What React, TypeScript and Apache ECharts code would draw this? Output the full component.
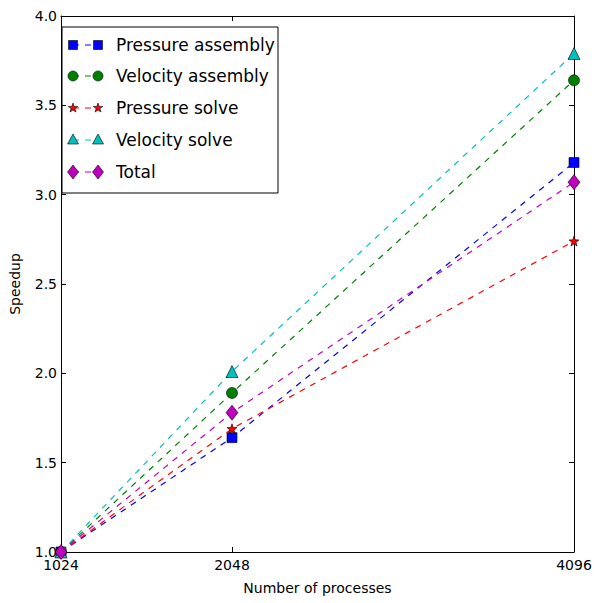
import React, { useEffect, useRef } from "react";
import * as echarts from "echarts";

const processes = [1024, 2048, 4096];
const xTickValues = [1024, 2048, 4096];
const pressureAssembly = [1.0, 1.64, 3.18];
const velocityAssembly = [1.0, 1.89, 3.64];
const pressureSolve = [1.0, 1.69, 2.74];
const velocitySolve = [1.0, 2.01, 3.79];
const total = [1.0, 1.78, 3.07];
const seriesNames = ["Pressure assembly", "Velocity assembly", "Pressure solve", "Velocity solve", "Total"];
const seriesColors = ["#0000ff", "#008000", "#ff0000", "#00bfbf", "#bf00bf"];

const STAR = "path://M0,-10 L2.35,-3.24 L9.51,-3.09 L3.8,1.24 L5.88,8.09 L0,4 L-5.88,8.09 L-3.8,1.24 L-9.51,-3.09 L-2.35,-3.24 Z";
const symbols = ["rect", "circle", STAR, "triangle", "diamond"];
const symbolSizes = [10, 11, 10, 12, [12, 15]];

function starPoints(cx: number, cy: number, r: number) {
  const pts: number[][] = [];
  for (let i = 0; i < 10; i++) {
    const rr = i % 2 === 0 ? r : r * 0.4;
    const a = -Math.PI / 2 + (i * Math.PI) / 5;
    pts.push([cx + rr * Math.cos(a), cy + rr * Math.sin(a)]);
  }
  return pts;
}

function legendMarker(i: number, cx: number, cy: number) {
  const style = { fill: seriesColors[i], stroke: "#000", lineWidth: 0.6 };
  if (i === 0) return { type: "rect", shape: { x: cx - 4.5, y: cy - 4.5, width: 9, height: 9 }, style };
  if (i === 1) return { type: "circle", shape: { cx, cy, r: 5 }, style };
  if (i === 2) return { type: "polygon", shape: { points: starPoints(cx, cy, 5) }, style };
  if (i === 3) return { type: "polygon", shape: { points: [[cx, cy - 6], [cx + 5.5, cy + 4], [cx - 5.5, cy + 4]] }, style };
  return { type: "polygon", shape: { points: [[cx, cy - 7], [cx + 5.5, cy], [cx, cy + 7], [cx - 5.5, cy]] }, style };
}

export default function App() {
  const ref = useRef<HTMLDivElement>(null);
  useEffect(() => {
    if (!ref.current) return;
    const chart = echarts.init(ref.current, null, { renderer: "svg" });
    const allData = [pressureAssembly, velocityAssembly, pressureSolve, velocitySolve, total];
    const font = "DejaVu Sans";
    const legendRows = [45, 76, 108, 140, 172];
    const legendChildren: any[] = [
      { type: "rect", shape: { x: 62, y: 27, width: 216, height: 166 }, style: { fill: "#fff", stroke: "#000", lineWidth: 1 } },
    ];
    seriesNames.forEach((n, i) => {
      const y = legendRows[i];
      legendChildren.push({ type: "line", shape: { x1: 73, y1: y, x2: 98, y2: y }, style: { stroke: seriesColors[i], lineWidth: 1, lineDash: [6, 6] } });
      legendChildren.push(legendMarker(i, 73, y));
      legendChildren.push(legendMarker(i, 98, y));
      legendChildren.push({ type: "text", x: 116, y, style: { text: n, fontFamily: font, fontSize: 17, fill: "#000", verticalAlign: "middle", align: "left" } });
    });
    const axisLineStyle = { color: "#000", width: 1 };
    chart.setOption({
      animation: false,
      grid: { left: 54, right: 21, top: 16, bottom: 51, containLabel: false },
      xAxis: [
        {
          type: "value", min: 1024, max: 4096, position: "bottom",
          axisLine: { show: true, lineStyle: axisLineStyle },
          axisTick: { show: true, inside: true, length: 5, customValues: xTickValues, lineStyle: axisLineStyle },
          axisLabel: { show: true, customValues: xTickValues, margin: 6, fontFamily: font, fontSize: 14, color: "#000", formatter: (v: number) => String(v) },
          splitLine: { show: false },
          name: "Number of processes", nameLocation: "middle", nameGap: 29,
          nameTextStyle: { fontFamily: font, fontSize: 14, color: "#000" },
        },
        {
          type: "value", min: 1024, max: 4096, position: "top",
          axisLine: { show: true, lineStyle: axisLineStyle },
          axisTick: { show: true, inside: true, length: 5, customValues: xTickValues, lineStyle: axisLineStyle },
          axisLabel: { show: false },
          splitLine: { show: false },
        },
      ],
      yAxis: [
        {
          type: "value", min: 1, max: 4, interval: 0.5, position: "left",
          axisLine: { show: true, lineStyle: axisLineStyle },
          axisTick: { show: true, inside: true, length: 5, lineStyle: axisLineStyle },
          axisLabel: { show: true, margin: 4, fontFamily: font, fontSize: 14, color: "#000", formatter: (v: number) => v.toFixed(1) },
          splitLine: { show: false },
          name: "Speedup", nameLocation: "middle", nameGap: 39, nameRotate: 90,
          nameTextStyle: { fontFamily: font, fontSize: 14, color: "#000" },
        },
        {
          type: "value", min: 1, max: 4, interval: 0.5, position: "right",
          axisLine: { show: true, lineStyle: axisLineStyle },
          axisTick: { show: true, inside: true, length: 5, lineStyle: axisLineStyle },
          axisLabel: { show: false },
          splitLine: { show: false },
        },
      ],
      series: allData.map((d, i) => ({
        type: "line",
        name: seriesNames[i],
        data: processes.map((p, j) => [p, d[j]]),
        xAxisIndex: 0,
        yAxisIndex: 0,
        symbol: symbols[i],
        symbolSize: symbolSizes[i],
        showAllSymbol: true,
        clip: true,
        lineStyle: { color: seriesColors[i], width: 1.2, type: [6, 6] },
        itemStyle: { color: seriesColors[i], borderColor: "#000", borderWidth: 0.6 },
        z: 2 + i,
      })),
      graphic: [{ type: "group", z: 100, children: legendChildren }],
    });
    return () => chart.dispose();
  }, []);
  return <div ref={ref} style={{ position: "absolute", left: 0, top: 0, width: 595, height: 603 }} />;
}
